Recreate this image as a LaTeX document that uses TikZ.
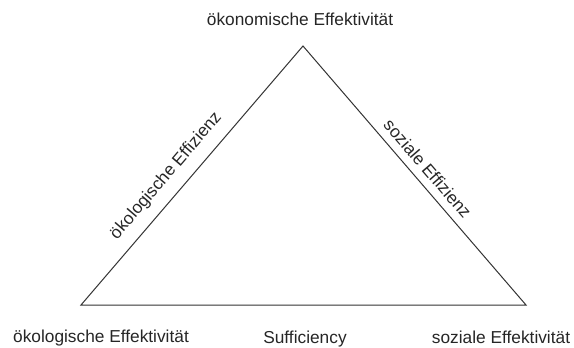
\documentclass[tikz,border=0pt]{standalone}
\usepackage{fontspec}
\setmainfont{Liberation Sans}
\usepackage{tikz}

\begin{document}
\begin{tikzpicture}[x=1pt,y=-1pt,
	lbl/.style={font=\fontsize{17.3}{19}\selectfont,text=black!85,inner sep=0pt}]
\useasboundingbox (0,0) rectangle (574,348);
\coordinate (top) at (303,46);
\coordinate (left) at (81,305);
\coordinate (right) at (526,305);

\draw[line width=1pt,black!80] (left) -- (top) -- (right) -- cycle; % triangle

\node[lbl] (oekonom) at (300,19) {ökonomische Effektivität};
\node[lbl] (oekolog) at (101,338) {ökologische Effektivität};
\node[lbl] (suff) at (305,339) {Sufficiency};
\node[lbl] (sozial) at (501,337) {soziale Effektivität};

\path (left) -- (top) node[lbl,pos=0.45,sloped,above=11pt] (effoek) {ökologische Effizienz}; % left side
\path (top) -- (right) node[lbl,pos=0.51,sloped,above=8pt] (effsoz) {soziale Effizienz}; % right side
\end{tikzpicture}
\end{document}
